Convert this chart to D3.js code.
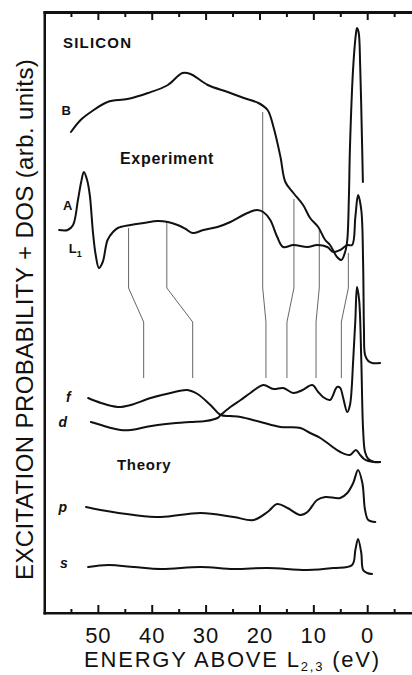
<!DOCTYPE html>
<html>
<head>
<meta charset="utf-8">
<script src="https://cdn.jsdelivr.net/npm/d3@7"></script>
<style>
  html, body { margin: 0; padding: 0; background: #fff; }
  svg { display: block; }
  text { font-family: "Liberation Sans", Arial, sans-serif; fill: #111; }
</style>
</head>
<body>
<svg id="chart" width="412" height="675"></svg>
<script>
// ---- data (energy above L2,3 in eV, intensity in arbitrary units) ----
const curveB = [[55.0,481],[53.2,493],[51.3,501],[48.2,511],[44.5,514],[40.7,520],[37.0,528],[34.3,540],[32.8,539],[29.6,528],[25.9,521],[22.9,515],[20.2,510],[18.5,503],[17.4,486],[16.1,456],[15.2,431],[13.7,420],[11.9,408],[10.6,395],[9.1,386],[7.8,373],[6.9,368],[5.6,356],[4.8,353],[4.1,361],[3.7,373],[3.4,416],[3.2,466],[2.6,546],[2.05,581],[1.9,585],[1.6,581],[1.3,546],[1.0,480],[0.8,431]];
const curveA = [[57.2,383],[55.6,383],[54.6,388],[53.7,413],[53.1,431],[52.6,441],[52.0,433],[51.5,418],[50.9,380],[50.4,358],[49.8,345],[49.1,351],[48.2,373],[47.2,381],[46.3,385],[43.9,388],[41.5,390],[38.9,392],[37.0,391],[35.2,388],[33.7,384],[32.4,380],[30.4,383],[27.8,386],[25.4,391],[23.0,398],[21.3,402],[20.4,403],[19.3,401],[18.0,393],[16.7,376],[15.6,366],[13.7,368],[11.1,366],[9.3,368],[7.4,366],[6.3,361],[5.0,363],[3.7,368],[2.8,368],[2.2,396],[1.7,418],[1.1,403],[0.76,350],[0.6,283],[0.4,258],[-0.2,252],[-0.9,250],[-2.4,250]];
const curveF = [[51.8,215],[49.4,210],[46.3,206],[43.9,208],[40.2,215],[36.5,220],[33.4,223],[31.5,219],[29.1,208],[27.2,198],[25.4,197],[23.5,196],[19.8,191],[16.1,186],[12.4,185],[10.6,180],[8.7,175],[6.9,168],[5.0,161],[3.2,158],[2.1,163],[1.3,158],[0.6,154],[-0.2,152],[-1.3,151],[-2.4,151]];
const curveD = [[51.3,191],[49.4,188],[47.6,185],[45.8,183],[43.9,183],[41.1,186],[38.9,188],[35.5,190],[32.8,191],[30.0,192],[27.8,195],[27.2,198],[25.4,206],[23.5,213],[21.7,220],[19.3,228],[17.4,224],[15.6,225],[13.7,220],[12.0,223],[10.2,228],[9.1,221],[8.2,216],[6.9,213],[5.6,226],[5.0,225],[4.5,216],[3.7,201],[3.2,208],[2.6,253],[2.2,293],[1.9,326],[1.5,313],[1.1,253],[0.76,183],[0.4,161],[-0.2,154],[-1.3,151],[-2.4,151]];
const curveP = [[52.2,106],[49.5,103],[43.3,98],[38.3,96],[30.9,100],[24.8,96],[21.1,93],[18.5,101],[16.7,109],[14.8,105],[12.4,98],[11.1,101],[9.3,113],[7.8,116],[5.0,115],[3.7,120],[2.6,130],[1.7,143],[0.9,130],[0.4,103],[-0.2,93],[-1.5,91]];
const curveS = [[51.8,46],[48.1,48],[43.3,46],[38.3,44],[30.9,46],[24.8,44],[18.5,45],[11.1,43],[6.3,45],[2.8,48],[2.2,63],[1.7,74],[1.1,60],[0.76,43],[0.0,40],[-0.9,39]];
// correspondence lines: [energy at experiment, intensity at start, energy at theory]
const links = [[44.3,385,41.5],[37.2,391,32.4],[19.4,501,18.8],[13.6,414,14.9],[8.9,383,9.5],[3.5,360,4.8]];
const linkLevels = [325, 291, 235]; // kink start, kink end, end (arb. units)
const majorTicks = [50,40,30,20,10,0];
const minorTicks = [55,45,35,25,15,5,-5];
const curveLabels = [
  {t:"B", e:55.9, v:498, italic:false},
  {t:"A", e:55.6, v:403, italic:false},
  {t:"f", e:55.5, v:211, italic:true},
  {t:"d", e:56.5, v:186, italic:true},
  {t:"p", e:56.5, v:101, italic:true},
  {t:"s", e:56.3, v:45, italic:true}
];

// ---- chart ----
const svg = d3.select("#chart");
const x = d3.scaleLinear().domain([60, -8.5]).range([44, 413]);
const y = d3.scaleLinear().domain([0, 600]).range([613, 13]);

const line = d3.line().x(d => x(d[0])).y(d => y(d[1])).curve(d3.curveCatmullRom.alpha(0.5));

// frame
svg.append("rect").attr("x", 43.5).attr("y", 11).attr("width", 368.5).attr("height", 3).attr("fill", "#111");
svg.append("rect").attr("x", 43.5).attr("y", 11).attr("width", 2.5).attr("height", 603.5).attr("fill", "#111");
svg.append("rect").attr("x", 43.5).attr("y", 612).attr("width", 368.5).attr("height", 2.5).attr("fill", "#111");

// bottom axis
const gb = svg.append("g").attr("transform", "translate(0,613)");
gb.call(d3.axisBottom(x).tickValues(minorTicks).tickSizeInner(-4).tickSizeOuter(0).tickFormat(""));
const gb2 = svg.append("g").attr("transform", "translate(0,613)");
gb2.call(d3.axisBottom(x).tickValues(majorTicks).tickSizeInner(-8).tickSizeOuter(0).tickPadding(14).tickFormat(d3.format("d")));
[gb, gb2].forEach(g => {
  g.select(".domain").remove();
  g.selectAll(".tick line").attr("stroke", "#111").attr("stroke-width", 2);
});
gb2.selectAll(".tick text").attr("font-size", 22).attr("letter-spacing", 1).attr("fill", "#111")
  .style("font-family", "'Liberation Sans', Arial, sans-serif");

// top axis
const gt = svg.append("g").attr("transform", "translate(0,13)");
gt.call(d3.axisTop(x).tickValues(minorTicks).tickSizeInner(-4).tickSizeOuter(0).tickFormat(""));
const gt2 = svg.append("g").attr("transform", "translate(0,13)");
gt2.call(d3.axisTop(x).tickValues(majorTicks).tickSizeInner(-7).tickSizeOuter(0).tickFormat(""));
[gt, gt2].forEach(g => {
  g.select(".domain").remove();
  g.selectAll(".tick line").attr("stroke", "#111").attr("stroke-width", 2);
});

// correspondence lines
const linkLine = d3.line().x(d => x(d[0])).y(d => y(d[1]));
svg.append("g").selectAll("path").data(links).join("path")
  .attr("d", d => linkLine([[d[0], d[1]], [d[0], linkLevels[0]], [d[2], linkLevels[1]], [d[2], linkLevels[2]]]))
  .attr("fill", "none").attr("stroke", "#666").attr("stroke-width", 1);

// curves
const curves = [curveB, curveA, curveF, curveD, curveP, curveS];
svg.append("g").selectAll("path").data(curves).join("path")
  .attr("d", line).attr("fill", "none").attr("stroke", "#111").attr("stroke-width", 2)
  .attr("stroke-linejoin", "round").attr("stroke-linecap", "round");

// curve labels
svg.append("g").selectAll("text").data(curveLabels).join("text")
  .attr("x", d => x(d.e)).attr("y", d => y(d.v))
  .attr("font-size", d => d.italic ? 14 : 13)
  .attr("font-weight", "bold")
  .attr("font-style", d => d.italic ? "italic" : "normal")
  .attr("text-anchor", "middle")
  .text(d => d.t);

// L1 label
const l1 = svg.append("text").attr("x", x(55.4)).attr("y", y(360)).attr("font-size", 13).attr("font-weight", "bold");
l1.append("tspan").text("L");
l1.append("tspan").attr("font-size", 9).attr("dy", 4).text("1");

// text annotations
svg.append("text").attr("x", 63).attr("y", 48).attr("font-size", 15).attr("font-weight", "bold")
  .attr("letter-spacing", 1.2).text("SILICON");
svg.append("text").attr("x", 120).attr("y", 164).attr("font-size", 16).attr("font-weight", "bold")
  .attr("letter-spacing", 0.7).text("Experiment");
svg.append("text").attr("x", 117).attr("y", 470).attr("font-size", 15).attr("font-weight", "bold")
  .attr("letter-spacing", 0.7).text("Theory");

// axis titles
const xt = svg.append("text").attr("x", 84).attr("y", 667).attr("font-size", 22).attr("letter-spacing", 1.8);
xt.append("tspan").text("ENERGY ABOVE L");
xt.append("tspan").attr("font-size", 13).attr("dy", 4).text("2,3");
xt.append("tspan").attr("dy", -4).text(" (eV)");

svg.append("text").attr("transform", "translate(33,580) rotate(-90)")
  .attr("font-size", 24).attr("letter-spacing", 0.4)
  .text("EXCITATION  PROBABILITY + DOS  (arb. units)");
</script>
</body>
</html>
